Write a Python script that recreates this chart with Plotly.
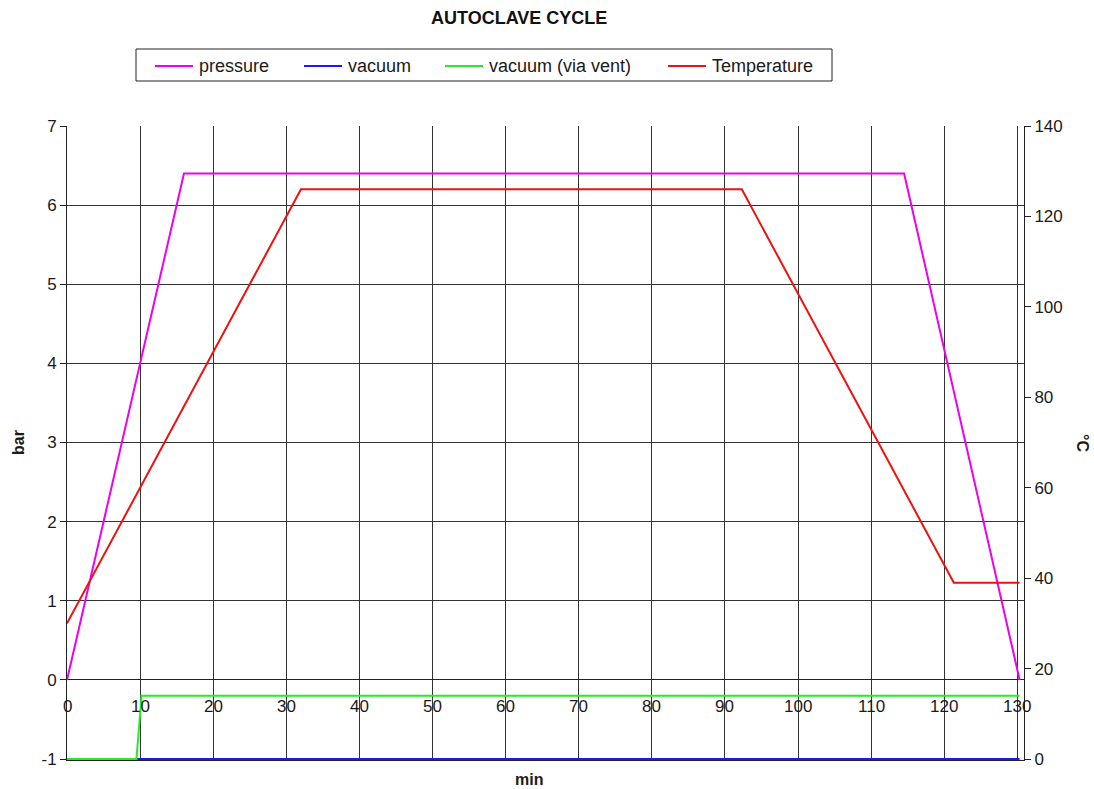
import plotly.graph_objects as go

# Data
press_x = [0, 16, 114.5, 130.3]
press_y = [0, 6.4, 6.4, 0]
vac_x = [0, 130.3]
vac_y = [-1, -1]
vent_x = [0, 9.5, 10.2, 130.3]
vent_y = [-1, -1, -0.2, -0.2]
temp_x = [0, 32, 92.3, 121.3, 130.3]
temp_y = [30, 126, 126, 39, 39]
x_ticks = [0, 10, 20, 30, 40, 50, 60, 70, 80, 90, 100, 110, 120, 130]
left_ticks = [-1, 0, 1, 2, 3, 4, 5, 6, 7]
left_labels = ["-1", "0", "1", "2", "3", "4", "5", "6", "7"]
right_ticks = [0, 20, 40, 60, 80, 100, 120, 140]

series_names = ["pressure", "vacuum", "vacuum (via vent)", "Temperature"]
series_colors = ["#ee00ee", "#1a1aee", "#22ee22", "#ee1111"]

FONT = "Liberation Sans, Arial, sans-serif"
TXT = "#1a1a1a"

# plot-area geometry (pixels)
W, H = 1094, 789
L, R, T, B = 67, 1024, 126, 760
PW, PH = R - L, B - T


def px(x):
    return (x - L) / PW


def py(y):
    return (B - y) / PH


fig = go.Figure()
fig.add_trace(go.Scatter(x=vac_x, y=vac_y, mode="lines", name=series_names[1],
                         line=dict(color=series_colors[1], width=2)))
fig.add_trace(go.Scatter(x=vent_x, y=vent_y, mode="lines", name=series_names[2],
                         line=dict(color=series_colors[2], width=2)))
fig.add_trace(go.Scatter(x=press_x, y=press_y, mode="lines", name=series_names[0],
                         line=dict(color=series_colors[0], width=2)))
fig.add_trace(go.Scatter(x=temp_x, y=temp_y, mode="lines", name=series_names[3],
                         line=dict(color=series_colors[3], width=2), yaxis="y2"))

annotations = []
shapes = []
for t in x_ticks:
    annotations.append(dict(x=t, y=0, xref="x", yref="y", text=str(t), showarrow=False,
                            yanchor="middle", yshift=-27, font=dict(size=17, color=TXT, family=FONT)))
annotations.append(dict(x=px(18), y=py(443), xref="paper", yref="paper", text="<b>bar</b>",
                        showarrow=False, textangle=-90, xanchor="center", yanchor="middle",
                        font=dict(size=16, color=TXT, family=FONT)))
annotations.append(dict(x=px(1083), y=py(443), xref="paper", yref="paper", text="<b>°C</b>",
                        showarrow=False, textangle=90, xanchor="center", yanchor="middle",
                        font=dict(size=16, color=TXT, family=FONT)))
annotations.append(dict(x=px(529), y=py(779), xref="paper", yref="paper", text="<b>min</b>",
                        showarrow=False, xanchor="center", yanchor="middle",
                        font=dict(size=16, color=TXT, family=FONT)))
annotations.append(dict(x=px(519), y=py(18), xref="paper", yref="paper", text="<b>AUTOCLAVE CYCLE</b>",
                        showarrow=False, xanchor="center", yanchor="middle",
                        font=dict(size=18, color="#111", family=FONT)))

# manual legend
shapes.append(dict(type="rect", xref="paper", yref="paper", x0=px(136), x1=px(832),
                   y0=py(49), y1=py(81), line=dict(color="#222", width=1), fillcolor="white"))
leg_line_x = [155, 304, 445, 668]
for name, col, lx in zip(series_names, series_colors, leg_line_x):
    shapes.append(dict(type="line", xref="paper", yref="paper", x0=px(lx), x1=px(lx + 38),
                       y0=py(66), y1=py(66), line=dict(color=col, width=2)))
    annotations.append(dict(x=px(lx + 42), y=py(66), xref="paper", yref="paper", text=name,
                            showarrow=False, xanchor="left", yanchor="middle",
                            font=dict(size=18, color=TXT, family=FONT)))

fig.update_layout(
    width=W, height=H,
    margin=dict(l=L, r=W - R, t=T, b=H - B, autoexpand=False),
    paper_bgcolor="white", plot_bgcolor="white",
    font=dict(family=FONT, size=16, color=TXT),
    showlegend=False,
    xaxis=dict(range=[0, 130.9], tickvals=x_ticks, showticklabels=False, showgrid=True,
               gridcolor="#333", gridwidth=1, zeroline=False, showline=True, linecolor="#222",
               linewidth=1, ticks="", automargin=False, layer="below traces"),
    yaxis=dict(range=[-1.012, 7], tickvals=left_ticks, ticktext=left_labels, showgrid=True,
               gridcolor="#333", gridwidth=1,
               zeroline=True, zerolinecolor="#222", zerolinewidth=1,
               showline=True, linecolor="#222", linewidth=1, ticks="outside", ticklen=6,
               tickcolor="#222", tickfont=dict(size=17, family=FONT, color=TXT), automargin=False,
               layer="below traces"),
    yaxis2=dict(range=[-0.21, 140], tickvals=right_ticks, overlaying="y", side="right", showgrid=False,
                zeroline=False, showline=True, linecolor="#222", linewidth=1, ticks="outside",
                ticklen=6, tickcolor="#222", tickfont=dict(size=17, family=FONT, color=TXT),
                automargin=False),
    annotations=annotations,
    shapes=shapes,
)
fig.write_html("out.html", config={"displayModeBar": False},
               post_script="document.body.style.margin='0';")
